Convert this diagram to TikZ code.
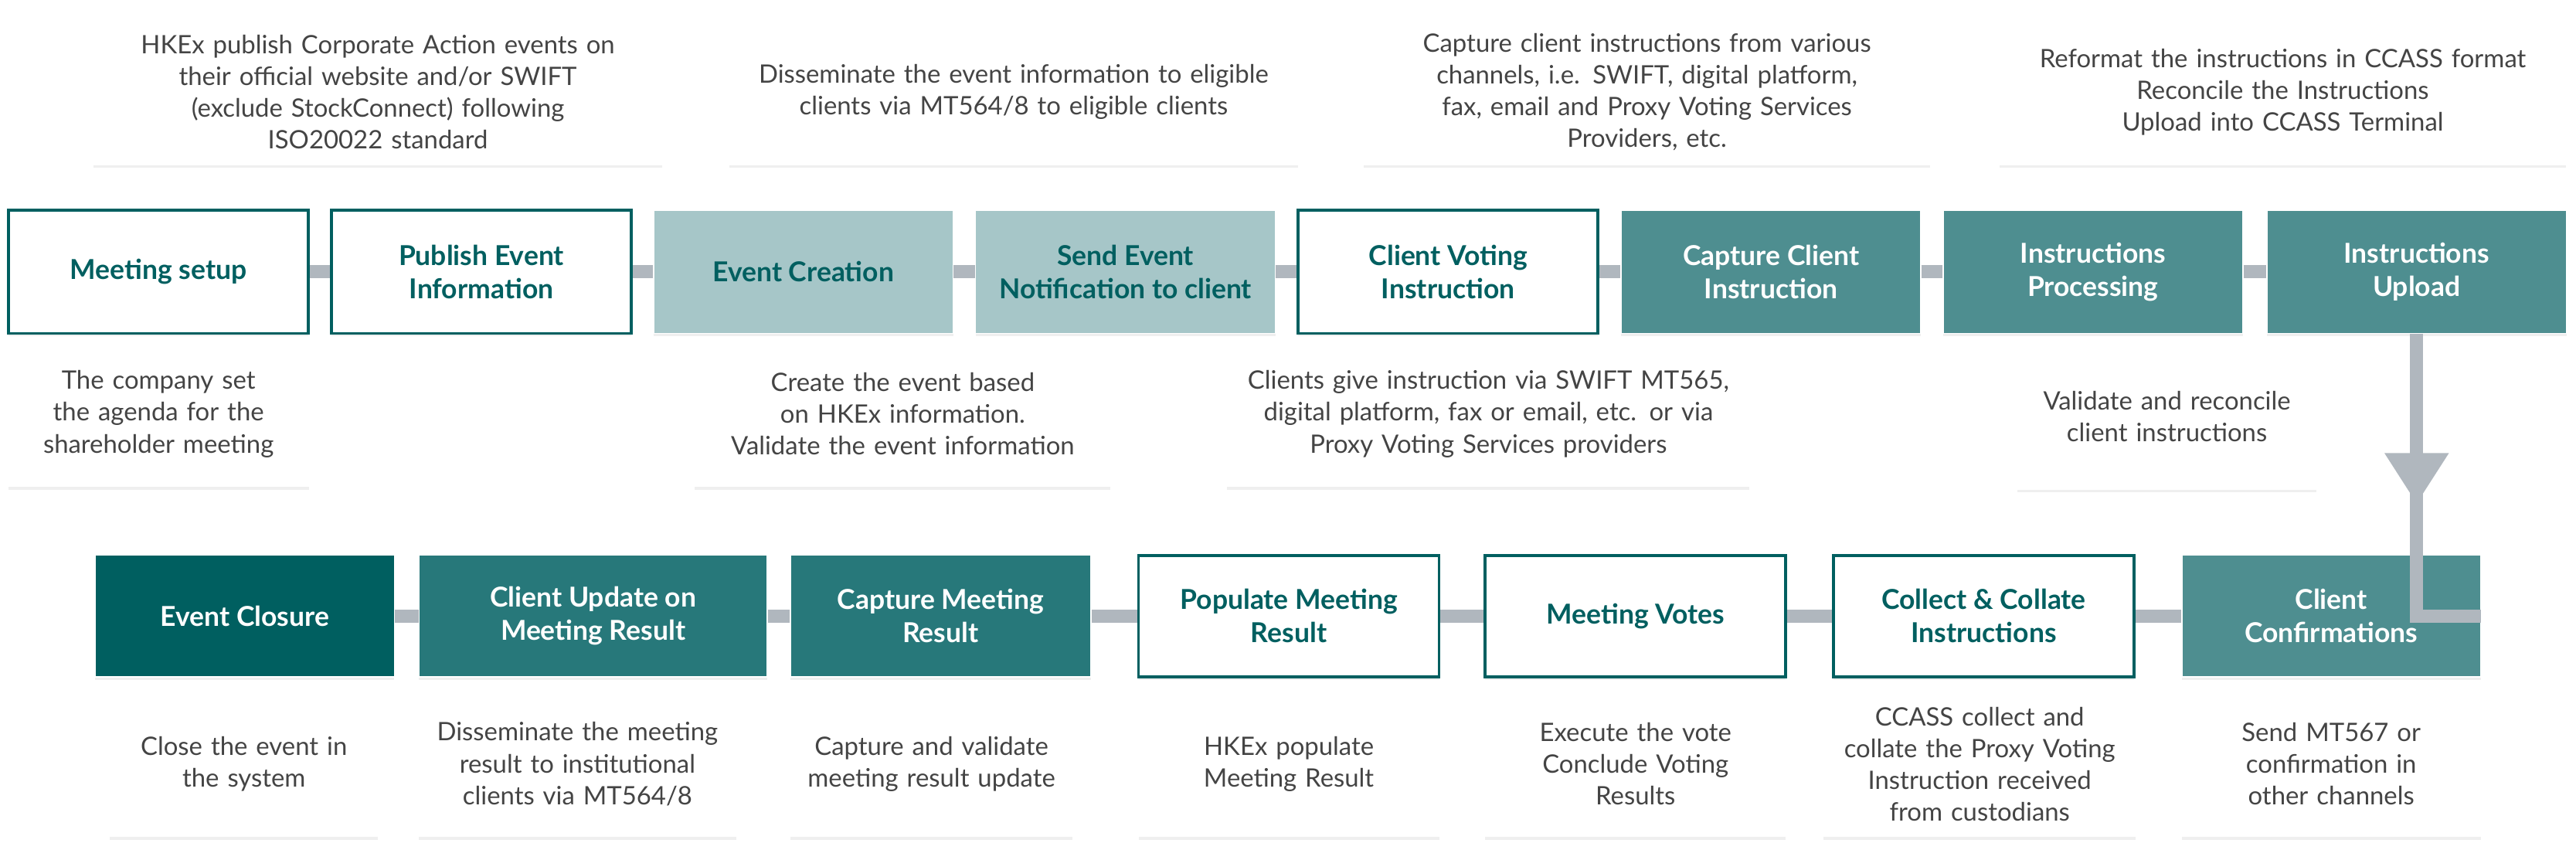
\documentclass[tikz,border=0pt]{standalone}
\usepackage{fontspec}
\setmainfont{Lato}
\usetikzlibrary{shadows,arrows.meta,decorations.markings}
\definecolor{tealdark}{HTML}{005F60}
\definecolor{tealmid}{HTML}{27787A}
\definecolor{tealbase}{HTML}{4E8E90}
\definecolor{teallight}{HTML}{A6C6C8}
\definecolor{linkgray}{HTML}{B0B7BE}
\definecolor{memotext}{HTML}{444444}

\tikzset{
  stage/.style={rectangle, minimum height=1.5cm, align=center, inner sep=2pt,
    font=\fontsize{9.5}{11.5}\selectfont\bfseries,
    drop shadow={opacity=0.12, shadow xshift=0pt, shadow yshift=-1pt}},
  stageplain/.style={stage, draw=tealdark, line width=1pt, fill=white, text=tealdark},
  stagepale/.style={stage, draw=white, fill=teallight, text=tealdark},
  stagefill/.style={stage, draw=white, fill=tealbase, text=white},
  stagedeep/.style={stage, draw=white, fill=tealmid, text=white},
  stagedark/.style={stage, draw=white, fill=tealdark, text=white},
  memo/.style={rectangle, fill=white, align=center, text=memotext, inner sep=2pt,
    font=\fontsize{8.8}{11}\selectfont, minimum height=1.78cm,
    drop shadow={opacity=0.12, shadow xshift=0pt, shadow yshift=-1pt}},
  link/.style={linkgray, line width=4.5pt}
}

\begin{document}
\begin{tikzpicture}[x=0.02cm, y=-0.02cm]
	\useasboundingbox[fill=white] (0,0) rectangle (1568,523);

	% top row
	\node[stageplain, minimum width=3.65cm] (setup) at (96.5,165.5) {Meeting setup};
	\node[stageplain, minimum width=3.65cm] (publish) at (293,165.5) {Publish Event\\Information};
	\node[stagepale, minimum width=3.65cm] (create) at (489,165.5) {Event Creation};
	\node[stagepale, minimum width=3.65cm] (notify) at (685,165.5) {Send Event\\Notification to client};
	\node[stageplain, minimum width=3.65cm] (vote) at (881.5,165.5) {Client Voting\\Instruction};
	\node[stagefill, minimum width=3.65cm] (capture) at (1078,165.5) {Capture Client\\Instruction};
	\node[stagefill, minimum width=3.65cm] (process) at (1274,165.5) {Instructions\\Processing};
	\node[stagefill, minimum width=3.65cm] (upload) at (1471,165.5) {Instructions\\Upload};

	% memos above
	\node[memo, minimum width=6.92cm, text width=6.6cm] (mpublish) at (230,56) {HKEx publish Corporate Action events on\\their official website and/or SWIFT\\(exclude StockConnect) following\\ISO20022 standard};
	\node[memo, minimum width=6.92cm, text width=6.6cm] (mnotify) at (617,56) {Disseminate the event information to eligible\\clients via MT564/8 to eligible clients};
	\node[memo, minimum width=6.9cm, text width=6.6cm] (mcapture) at (1002.5,56) {Capture client instructions from various\\channels, i.e. SWIFT, digital platform,\\fax, email and Proxy Voting Services\\Providers, etc.};
	\node[memo, minimum width=6.9cm, text width=6.6cm] (mupload) at (1389.5,56) {Reformat the instructions in CCASS format\\Reconcile the Instructions\\Upload into CCASS Terminal};

	% memos below
	\node[memo, minimum width=3.66cm, text width=3.5cm] (msetup) at (96.5,252) {The company set\\the agenda for the\\shareholder meeting};
	\node[memo, minimum width=5.06cm, text width=4.9cm] (mcreate) at (549.5,252) {Create the event based\\on HKEx information.\\Validate the event information};
	\node[memo, minimum width=6.36cm, text width=6.2cm] (mvote) at (906,252) {Clients give instruction via SWIFT MT565,\\digital platform, fax or email, etc. or via\\Proxy Voting Services providers};
	\node[memo, minimum width=3.64cm, text width=3.5cm] (mprocess) at (1319,253.5) {Validate and reconcile\\client instructions};

	% bottom row
	\node[stagedark, minimum width=3.64cm, minimum height=1.48cm] (closure) at (149,375) {Event Closure};
	\node[stagedeep, minimum width=4.24cm, minimum height=1.48cm] (update) at (361,375) {Client Update on\\Meeting Result};
	\node[stagedeep, minimum width=3.66cm, minimum height=1.48cm] (result) at (572.5,375) {Capture Meeting\\Result};
	\node[stageplain, minimum width=3.66cm, minimum height=1.48cm] (populate) at (784.5,375) {Populate Meeting\\Result};
	\node[stageplain, minimum width=3.66cm, minimum height=1.48cm] (votes) at (995.5,375) {Meeting Votes};
	\node[stageplain, minimum width=3.66cm, minimum height=1.48cm] (collate) at (1207.5,375) {Collect \& Collate\\Instructions};
	\node[stagefill, minimum width=3.64cm, minimum height=1.48cm] (confirm) at (1419,375) {Client\\Confirmations};

	\node[memo, minimum width=3.26cm, text width=3.1cm] (mclosure) at (148.5,465) {Close the event in\\the system};
	\node[memo, minimum width=3.86cm, text width=3.7cm] (mupdate) at (351.5,465) {Disseminate the meeting\\result to institutional\\clients via MT564/8};
	\node[memo, minimum width=3.44cm, text width=3.3cm] (mresult) at (567,465) {Capture and validate\\meeting result update};
	\node[memo, minimum width=3.66cm, text width=3.5cm] (mpopulate) at (784.5,465) {HKEx populate\\Meeting Result};
	\node[memo, minimum width=3.66cm, text width=3.5cm] (mvotes) at (995.5,465) {Execute the vote\\Conclude Voting\\Results};
	\node[memo, minimum width=3.8cm, text width=3.6cm] (mcollate) at (1205,465) {CCASS collect and\\collate the Proxy Voting\\Instruction received\\from custodians};
	\node[memo, minimum width=3.64cm, text width=3.5cm] (mconfirm) at (1419,465) {Send MT567 or\\confirmation in\\other channels};

	% links
	\foreach \a/\b in {setup/publish, publish/create, create/notify, notify/vote, vote/capture, capture/process, process/upload, closure/update, update/result, result/populate, populate/votes, votes/collate, collate/confirm}
		\draw[link] (\a.east) -- (\b.west);

	\coordinate (turn) at (upload.south |- confirm.east);
	\draw[link, decoration={markings, mark=at position 0.49 with {\arrow{Triangle[length=0.62cm, width=0.74cm]}}}, postaction={decorate}] (upload.south) -- (turn) -- (confirm.east);
\end{tikzpicture}
\end{document}
